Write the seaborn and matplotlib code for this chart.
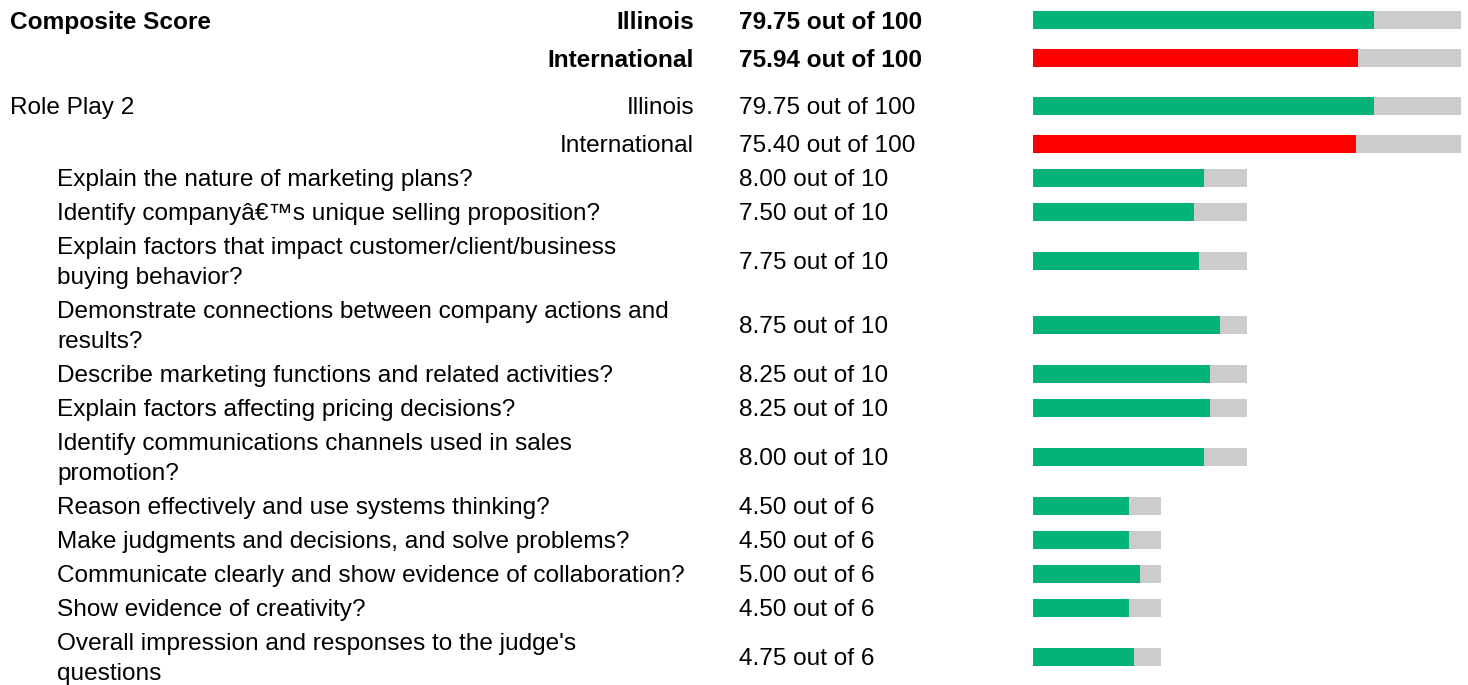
import matplotlib
matplotlib.use("Agg")
import matplotlib.pyplot as plt
import numpy as np
import pandas as pd
import seaborn as sns

sns.set_theme(style="white")
plt.rcParams["font.family"] = ["Liberation Sans", "DejaVu Sans"]

# Summary rows: overall composite and the role-play event
summary_sections = ["Composite Score", "", "Role Play 2", ""]
summary_groups = ["Illinois", "International", "Illinois", "International"]
summary_scores = [79.75, 75.94, 79.75, 75.40]
summary_max = [100, 100, 100, 100]
summary_bold = [True, True, False, False]

# Performance indicators scored by the judge
item_labels = [
    "Explain the nature of marketing plans?",
    "Identify companyâ€™s unique selling proposition?",
    "Explain factors that impact customer/client/business\nbuying behavior?",
    "Demonstrate connections between company actions and\nresults?",
    "Describe marketing functions and related activities?",
    "Explain factors affecting pricing decisions?",
    "Identify communications channels used in sales\npromotion?",
    "Reason effectively and use systems thinking?",
    "Make judgments and decisions, and solve problems?",
    "Communicate clearly and show evidence of collaboration?",
    "Show evidence of creativity?",
    "Overall impression and responses to the judge's\nquestions",
]
item_scores = [8.00, 7.50, 7.75, 8.75, 8.25, 8.25, 8.00, 4.50, 4.50, 5.00, 4.50, 4.75]
item_max = [10, 10, 10, 10, 10, 10, 10, 6, 6, 6, 6, 6]

# Styling
W, H = 1468, 685
GREEN, RED, GREY = "#05B27A", "#FF0000", "#CCCCCC"
TRACK_LEN = {100: 428, 10: 214, 6: 128}   # full-bar length per maximum score
BAR_H = 18
FS = 17.6
TEXT_DY = 2
X_SECTION, X_ITEM, X_GROUP, X_VALUE, X_BAR = 10, 57, 694, 739, 1033

# Row layout (vertical centres in pixel units)
centers = []
y = 1
for i in range(len(summary_scores)):
    centers.append(y + 19)
    y += 38
    if i == 1:
        y += 10
y -= 2
for lab in item_labels:
    h = 34 + 30 * lab.count("\n")
    centers.append(y + h / 2)
    y += h

scores = summary_scores + item_scores
maxima = summary_max + item_max
kinds = summary_groups + ["Illinois"] * len(item_scores)
df = pd.DataFrame({
    "pos": centers,
    "track": [TRACK_LEN[m] for m in maxima],
    "fill": [s / m * TRACK_LEN[m] for s, m in zip(scores, maxima)],
    "kind": kinds,
})

fig = plt.figure(figsize=(W / 100, H / 100), dpi=100)
ax_txt = fig.add_axes([0, 0, 1, 1])
ax_txt.set_xlim(0, W)
ax_txt.set_ylim(H, 0)
ax_txt.axis("off")

ax_bar = fig.add_axes([X_BAR / W, 0, TRACK_LEN[100] / W, 1])
width = BAR_H / np.min(np.diff(np.sort(df["pos"].values)))
sns.barplot(data=df, x="track", y="pos", orient="h", native_scale=True,
            color=GREY, saturation=1, width=width, errorbar=None,
            linewidth=0, ax=ax_bar)
sns.barplot(data=df, x="fill", y="pos", orient="h", native_scale=True,
            hue="kind", palette={"Illinois": GREEN, "International": RED},
            dodge=False, saturation=1, width=width, errorbar=None,
            linewidth=0, legend=False, ax=ax_bar)
ax_bar.set_xlim(0, TRACK_LEN[100])
ax_bar.set_ylim(H, 0)
ax_bar.axis("off")

# Text columns
for i in range(len(summary_scores)):
    yc = centers[i] + TEXT_DY
    fw = "bold" if summary_bold[i] else "normal"
    if summary_sections[i]:
        ax_txt.text(X_SECTION, yc, summary_sections[i], fontsize=FS,
                    fontweight=fw, va="center", ha="left", color="black")
    ax_txt.text(X_GROUP, yc, summary_groups[i], fontsize=FS, fontweight=fw,
                va="center", ha="right", color="black")
    ax_txt.text(X_VALUE, yc, f"{summary_scores[i]:.2f} out of {summary_max[i]}",
                fontsize=FS, fontweight=fw, va="center", ha="left", color="black")

n0 = len(summary_scores)
for j, lab in enumerate(item_labels):
    yc = centers[n0 + j] + TEXT_DY
    ax_txt.text(X_ITEM, yc, lab, fontsize=FS, va="center", ha="left",
                linespacing=1.45, color="black")
    ax_txt.text(X_VALUE, yc, f"{item_scores[j]:.2f} out of {item_max[j]}",
                fontsize=FS, va="center", ha="left", color="black")

fig.savefig("out.png", dpi=100, facecolor="white")
